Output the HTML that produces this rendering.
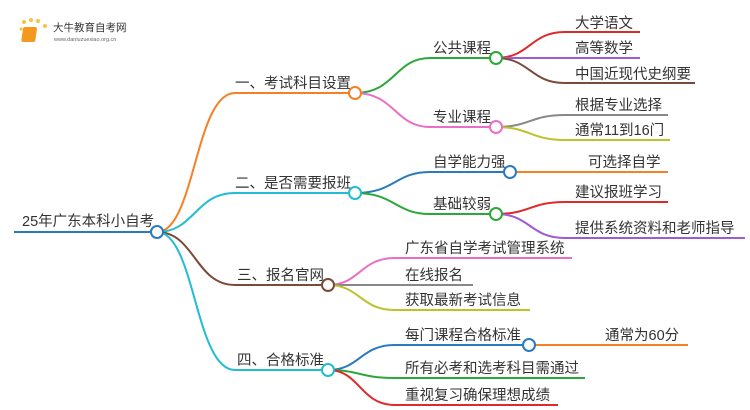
<!DOCTYPE html>
<html><head><meta charset="utf-8"><style>
html,body{margin:0;padding:0;background:#fff;width:750px;height:410px;overflow:hidden}
svg text{font-family:"Liberation Sans","Noto Sans CJK SC",sans-serif;fill:#333}
</style></head><body>
<svg width="750" height="410" viewBox="0 0 750 410" xmlns="http://www.w3.org/2000/svg" fill="none" stroke-width="2">
<g>
<circle cx="24" cy="22" r="2" fill="#f6c343" stroke="none"/><circle cx="31" cy="20" r="2" fill="#f6c343" stroke="none"/><circle cx="38" cy="21" r="2" fill="#f6c343" stroke="none"/><circle cx="45" cy="26" r="2" fill="#f6c343" stroke="none"/><circle cx="21" cy="29" r="1.5" fill="#f6c343" stroke="none"/>
<rect x="27" y="27" width="14" height="15" rx="2" fill="#f39a1e" stroke="none" transform="skewX(-8)"/>
<text x="53" y="31" font-size="10.5" style="fill:#333">大牛教育自考网</text>
<text x="54" y="41" font-size="5.5" style="fill:#666">www.daniuzuexiao.org.cn</text>
</g>
<path d="M14 232 H151" stroke="#2a7ac0"/>
<text x="22" y="226" font-size="14.5">25年广东本科小自考</text>
<path d="M157 232 C195 232,195 93,235 93 H349" stroke="#f58025"/>
<path d="M157 232 C195 232,195 193,235 193 H349" stroke="#22bcd3"/>
<path d="M157 232 C195 232,195 285,235 285 H322" stroke="#7a4a3a"/>
<path d="M157 232 C195 232,195 370,235 370 H322" stroke="#22bcd3"/>
<circle cx="157" cy="232" r="6" fill="#fff" stroke="#2a7ac0"/>
<text x="235" y="88" font-size="14.5">一、考试科目设置</text>
<text x="235" y="188" font-size="14.5">二、是否需要报班</text>
<text x="237" y="280" font-size="14.5">三、报名官网</text>
<text x="237" y="365" font-size="14.5">四、合格标准</text>
<path d="M355 93 C395 93,395 58,430 58 H490" stroke="#2ba83a"/>
<path d="M355 93 C395 93,395 127,430 127 H490" stroke="#e86fc4"/>
<circle cx="355" cy="93" r="6" fill="#fff" stroke="#f58025"/>
<text x="433" y="53" font-size="14.5">公共课程</text>
<text x="433" y="122" font-size="14.5">专业课程</text>
<path d="M355 193 C395 193,395 172,430 172 H504" stroke="#2a7ac0"/>
<path d="M355 193 C395 193,395 214,430 214 H490" stroke="#2ba83a"/>
<circle cx="355" cy="193" r="6" fill="#fff" stroke="#22bcd3"/>
<text x="433" y="167" font-size="14.5">自学能力强</text>
<text x="433" y="209" font-size="14.5">基础较弱</text>
<path d="M496 58 C530 58,530 32,565 32 H640" stroke="#e02a2a"/>
<path d="M496 58 H640" stroke="#a05bd0"/>
<path d="M496 58 C530 58,530 83,565 83 H695" stroke="#7a4a3a"/>
<circle cx="496" cy="58" r="6" fill="#fff" stroke="#2ba83a"/>
<text x="575" y="28" font-size="14.5">大学语文</text>
<text x="575" y="53" font-size="14.5">高等数学</text>
<text x="575" y="79" font-size="14.5">中国近现代史纲要</text>
<path d="M496 127 C530 127,530 115,565 115 H668" stroke="#888"/>
<path d="M496 127 C530 127,530 140,565 140 H670" stroke="#bcc22a"/>
<circle cx="496" cy="127" r="6" fill="#fff" stroke="#e86fc4"/>
<text x="575" y="110" font-size="14.5">根据专业选择</text>
<text x="575" y="135" font-size="14.5">通常11到16门</text>
<path d="M510 172 H668" stroke="#f58025"/>
<circle cx="510" cy="172" r="6" fill="#fff" stroke="#2a7ac0"/>
<text x="588" y="167" font-size="14.5">可选择自学</text>
<path d="M496 214 C530 214,530 202,565 202 H668" stroke="#e02a2a"/>
<path d="M496 214 C530 214,530 238,565 238 H745" stroke="#a05bd0"/>
<circle cx="496" cy="214" r="6" fill="#fff" stroke="#2ba83a"/>
<text x="575" y="197" font-size="14.5">建议报班学习</text>
<text x="575" y="233" font-size="14.5">提供系统资料和老师指导</text>
<path d="M328 285 C360 285,360 258,395 258 H572" stroke="#e86fc4"/>
<path d="M328 285 H473" stroke="#888"/>
<path d="M328 285 C360 285,360 310,395 310 H530" stroke="#bcc22a"/>
<circle cx="328" cy="285" r="6" fill="#fff" stroke="#7a4a3a"/>
<text x="405" y="253" font-size="14.5">广东省自学考试管理系统</text>
<text x="405" y="280" font-size="14.5">在线报名</text>
<text x="405" y="305" font-size="14.5">获取最新考试信息</text>
<path d="M328 370 C360 370,360 345,395 345 H523" stroke="#2a7ac0"/>
<path d="M328 370 C360 370,360 378,395 378 H585" stroke="#2ba83a"/>
<path d="M328 370 C360 370,360 405,395 405 H558" stroke="#e02a2a"/>
<circle cx="328" cy="370" r="6" fill="#fff" stroke="#22bcd3"/>
<text x="405" y="340" font-size="14.5">每门课程合格标准</text>
<text x="405" y="373" font-size="14.5">所有必考和选考科目需通过</text>
<text x="405" y="400" font-size="14.5">重视复习确保理想成绩</text>
<path d="M529 345 H688" stroke="#f58025"/>
<circle cx="529" cy="345" r="6" fill="#fff" stroke="#2a7ac0"/>
<text x="605" y="340" font-size="14.5">通常为60分</text>
</svg>
</body></html>
